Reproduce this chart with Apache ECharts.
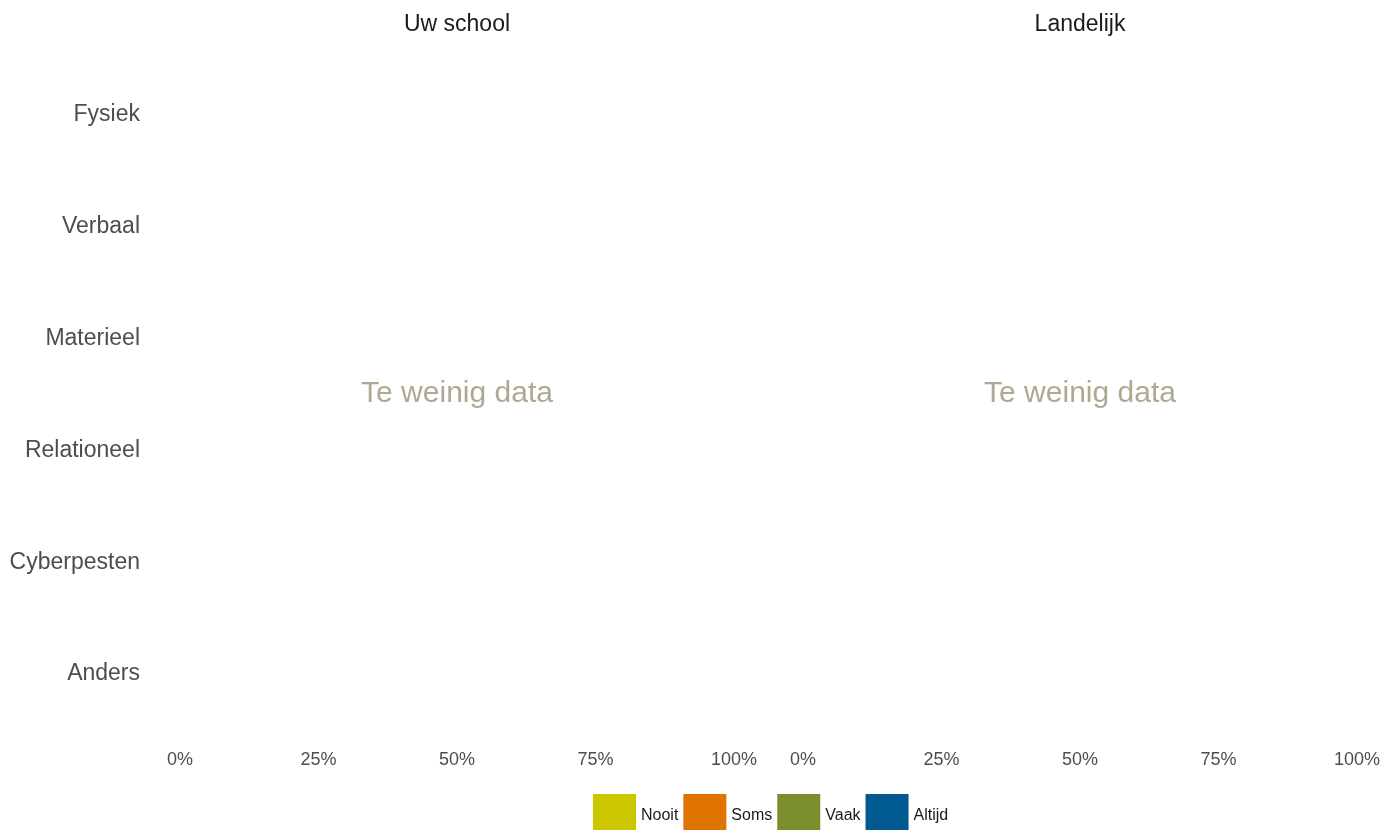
<!DOCTYPE html>
<html>
<head>
<meta charset="utf-8">
<script src="https://cdn.jsdelivr.net/npm/echarts@6/dist/echarts.min.js"></script>
<style>html,body{margin:0;padding:0;background:#fff;}#c{width:1397px;height:830px;}</style>
</head>
<body>
<div id="c"></div>
<script>
const categories = ['Fysiek', 'Verbaal', 'Materieel', 'Relationeel', 'Cyberpesten', 'Anders'];
const panels = ['Uw school', 'Landelijk'];
const legendNames = ['Nooit', 'Soms', 'Vaak', 'Altijd'];
const legendColors = ['#CCC600', '#E07400', '#7B902D', '#005A8F'];
const xTicks = [0, 25, 50, 75, 100];
const noDataText = 'Te weinig data';
// No data available in either panel ("Te weinig data")
const uwSchoolNooit = [null, null, null, null, null, null];
const uwSchoolSoms = [null, null, null, null, null, null];
const uwSchoolVaak = [null, null, null, null, null, null];
const uwSchoolAltijd = [null, null, null, null, null, null];
const landelijkNooit = [null, null, null, null, null, null];
const landelijkSoms = [null, null, null, null, null, null];
const landelijkVaak = [null, null, null, null, null, null];
const landelijkAltijd = [null, null, null, null, null, null];

const panelData = [
  [uwSchoolNooit, uwSchoolSoms, uwSchoolVaak, uwSchoolAltijd],
  [landelijkNooit, landelijkSoms, landelijkVaak, landelijkAltijd]
];

const FONT = 'Liberation Sans, Arial, sans-serif';
const gridLeft = [180, 803];
const gridWidth = 554;
const gridTop = 59;
const gridHeight = 671;

const chart = echarts.init(document.getElementById('c'), null, {renderer: 'canvas'});

const grids = panels.map((p, i) => ({left: gridLeft[i], width: gridWidth, top: gridTop, height: gridHeight, containLabel: false}));
const xAxes = panels.map((p, i) => ({
  type: 'value', gridIndex: i, min: xTicks[0], max: xTicks[xTicks.length - 1], interval: 25,
  axisLine: {show: false}, axisTick: {show: false}, splitLine: {show: false},
  axisLabel: {formatter: '{value}%', color: '#4d4d4d', fontSize: 18, fontFamily: FONT, margin: 21, showMinLabel: true, showMaxLabel: true}
}));
const yAxes = panels.map((p, i) => ({
  type: 'category', gridIndex: i, data: categories, inverse: true,
  axisLine: {show: false}, axisTick: {show: false}, splitLine: {show: false},
  axisLabel: {show: i === 0, color: '#4d4d4d', fontSize: 23, fontFamily: FONT, margin: 40}
}));
const series = [];
panels.forEach((p, i) => {
  legendNames.forEach((n, k) => {
    series.push({
      name: n, type: 'bar', stack: 'p' + i, xAxisIndex: i, yAxisIndex: i,
      data: panelData[i][k], itemStyle: {color: legendColors[k]}, barWidth: '60%'
    });
  });
});

const graphics = [];
panels.forEach((p, i) => {
  const cx = gridLeft[i] + gridWidth / 2;
  graphics.push({type: 'text', x: cx, y: 25, style: {text: p, font: '23px ' + FONT, fill: '#1a1a1a', textAlign: 'center', textVerticalAlign: 'middle'}});
  graphics.push({type: 'text', x: cx, y: 394, style: {text: noDataText, font: '30px ' + FONT, fill: '#AFA892', textAlign: 'center', textVerticalAlign: 'middle'}});
});

chart.setOption({
  backgroundColor: '#ffffff',
  animation: false,
  grid: grids,
  xAxis: xAxes,
  yAxis: yAxes,
  legend: {
    data: legendNames.map((n, k) => ({name: n, icon: 'rect', itemStyle: {color: legendColors[k]}})),
    left: 593, top: 794, padding: 0, itemWidth: 43, itemHeight: 43, itemGap: 5,
    textStyle: {color: '#1a1a1a', fontSize: 16, fontFamily: FONT},
    selectedMode: false
  },
  graphic: graphics,
  series: series
});
</script>
</body>
</html>
